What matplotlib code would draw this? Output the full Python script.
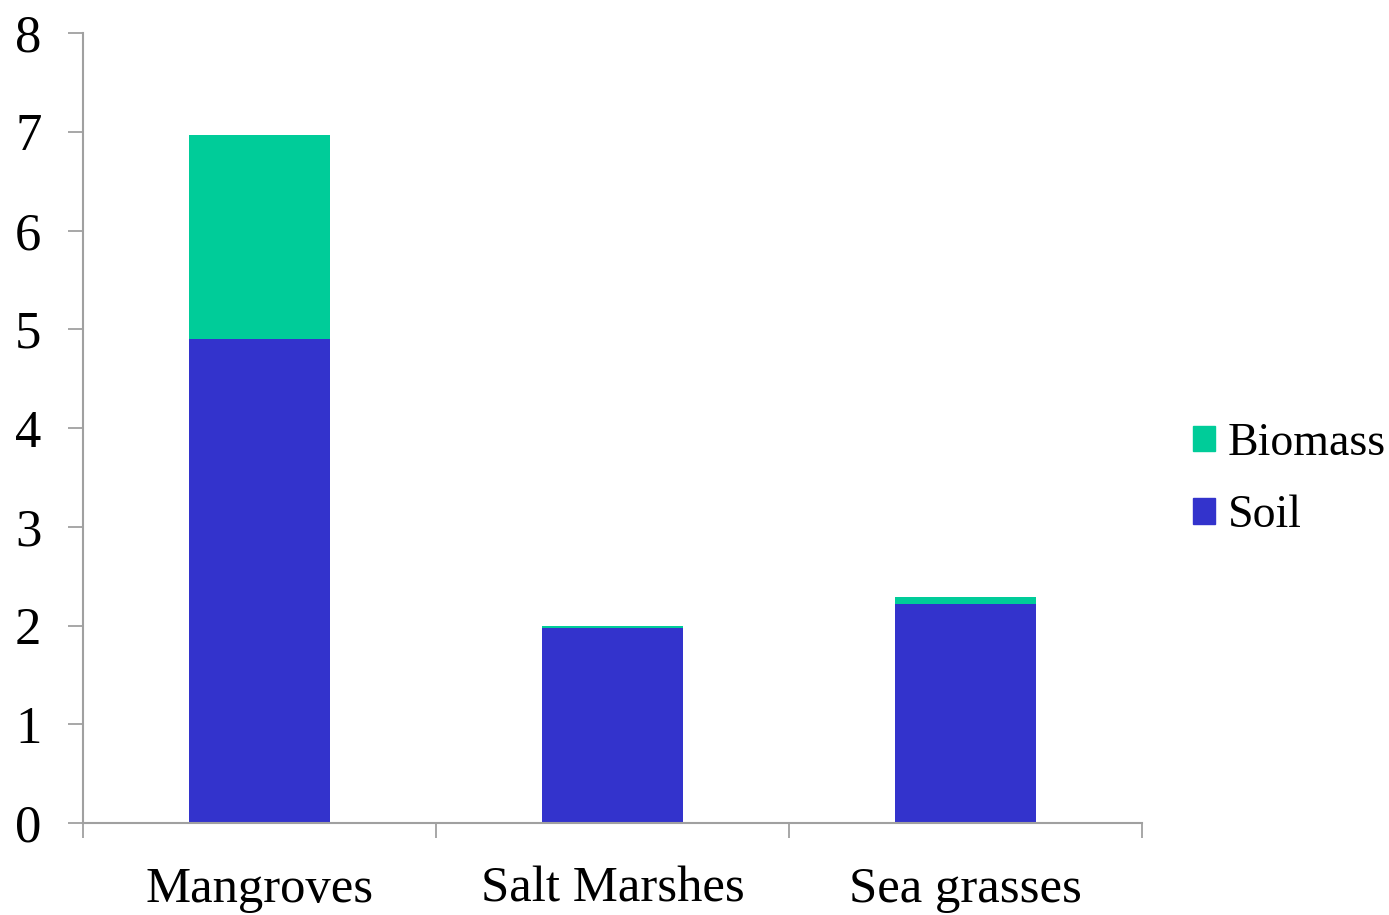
import matplotlib.pyplot as plt
from matplotlib.patches import Patch

# Data
categories = ["Mangroves", "Salt Marshes", "Sea grasses"]
soil = [4.90, 1.98, 2.22]
biomass = [2.07, 0.02, 0.07]
yticks = [0, 1, 2, 3, 4, 5, 6, 7, 8]

soil_color = "#3333CC"
biomass_color = "#00CC99"
axis_color = "#A0A0A0"

plt.rcParams["font.family"] = ["Liberation Serif", "DejaVu Serif"]

fig = plt.figure(figsize=(13.89, 9.15), dpi=100)
ax = fig.add_axes([0.0598, 0.1005, 0.7624, 0.8634])

x = list(range(len(categories)))
ax.bar(x, soil, width=0.4, color=soil_color, label="Soil")
ax.bar(x, biomass, width=0.4, bottom=soil, color=biomass_color, label="Biomass")

ax.set_xlim(-0.5, len(categories) - 0.5)
ax.set_ylim(0, 8)
ax.set_yticks(yticks)
ax.set_yticklabels([str(v) for v in yticks], fontsize=38)

# category labels at centres, tick marks at the boundaries
ax.set_xticks(x)
ax.set_xticklabels(categories, fontsize=36.5)
ax.set_xticks([i - 0.5 for i in range(len(categories) + 1)], minor=True)
ax.tick_params(axis="x", which="major", length=0, pad=31)
ax.tick_params(axis="x", which="minor", length=11, width=1.3, color=axis_color)
ax.tick_params(axis="y", length=11, width=1.3, color=axis_color, pad=19)

for side in ["top", "right"]:
    ax.spines[side].set_visible(False)
for side in ["left", "bottom"]:
    ax.spines[side].set_color(axis_color)
    ax.spines[side].set_linewidth(1.5)

handles = [Patch(color=biomass_color, label="Biomass"),
           Patch(color=soil_color, label="Soil")]
fig.legend(handles=handles, loc="center left", bbox_to_anchor=(0.859, 0.4755),
           frameon=False, fontsize=33, handlelength=0.48, handleheight=0.48,
           handletextpad=0.28, labelspacing=0.65, borderpad=0, borderaxespad=0)

fig.savefig("out.png", dpi=100)
